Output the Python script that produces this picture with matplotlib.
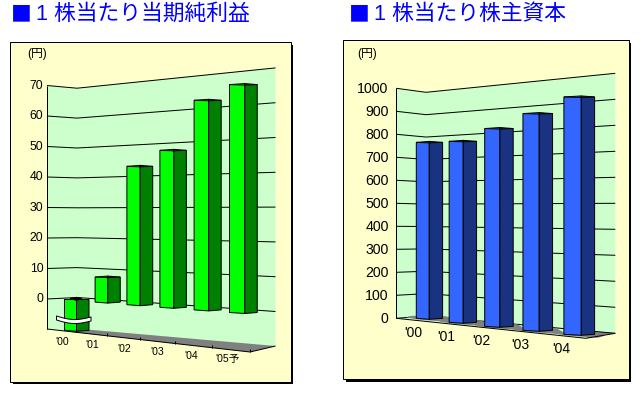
import matplotlib
matplotlib.use("Agg")
import matplotlib.pyplot as plt
import numpy as np
from matplotlib.patches import Polygon, Rectangle

plt.rcParams['font.family'] = ['Liberation Sans', 'Noto Sans CJK JP', 'DejaVu Sans']

# data
eps_title = "1 株当たり当期純利益"
eps_categories = ["'00", "'01", "'02", "'03", "'04", "'05予"]
eps_values = [-9.6, 7.8, 43.1, 48.9, 65.3, 71.0]
eps_ticks = [0, 10, 20, 30, 40, 50, 60, 70]

bps_title = "1 株当たり株主資本"
bps_categories = ["'00", "'01", "'02", "'03", "'04"]
bps_values = [733, 754, 824, 903, 989]
bps_ticks = [0, 100, 200, 300, 400, 500, 600, 700, 800, 900, 1000]

PX = 0.72  # one pixel in points at dpi 100
BLUE = "#0000ff"
WALL = "#ccffcc"
PANEL = "#ffffcc"
GRAY = "#808080"

fig = plt.figure(figsize=(6.43, 3.94), dpi=100)
ax = fig.add_axes([0, 0, 1, 1])
ax.set_xlim(0, 643)
ax.set_ylim(394, 0)  # axes units are image pixels
ax.axis("off")


def line(xs, ys, z=3):
    ax.plot(xs, ys, color="black", lw=PX, zorder=z, solid_capstyle="butt")


def panel(x0, y0, x1, y1, shadow):
    ax.add_patch(Rectangle((x0 + 3, y0 + 3), x1 - x0 + shadow - 3, y1 - y0 + shadow - 3,
                           fc="black", ec="none", zorder=1))
    ax.add_patch(Rectangle((x0, y0), x1 - x0, y1 - y0, fc=PANEL, ec="black", lw=PX, zorder=2))


def wall_y(v, left, kink, right):
    # gridline height at the three wall corners, each corner is (zero y, px per unit)
    return [c[0] - v * c[1] for c in (left, kink, right)]


def bar(xl, xk, xr, base, value, scale, front, side, z):
    top = base - value * scale
    dt = -1 if value > 0 else 1
    db = 1 if value > 0 else 0
    ax.add_patch(Polygon([(xl, base), (xk, base + db), (xk, top + dt), (xl, top)], closed=True,
                         fc=front, ec="black", lw=PX, zorder=z))
    ax.add_patch(Polygon([(xk, base + db), (xr, base), (xr, top), (xk, top + dt)], closed=True,
                         fc=side, ec="black", lw=PX, zorder=z))
    if value > 0:
        line([xl, xk, xr], [top, top + 0.5, top], z=z)


# ---- left chart ----
panel(9.5, 41.5, 290.5, 381.7, 2.5)
ax.text(11, 14.5, "■", color=BLUE, fontsize=15, va="center", ha="left", zorder=5,
        family=['Noto Sans CJK JP'])
ax.text(36.5, 14.5, eps_title, color=BLUE, fontsize=15.7, va="center", ha="left", zorder=5)
ax.text(37.5, 54, "(円)", fontsize=8.5, va="center", ha="center", zorder=5)

lx, kx, rx = 47, 77, 275.5
c_l, c_k, c_r = (299, 3.05), (297.5, 2.99), (311.5, 3.48)
top_y = wall_y(70, c_l, c_k, c_r)
ax.add_patch(Polygon([(lx, top_y[0]), (kx, top_y[1]), (rx, top_y[2]), (rx, 346), (250, 352), (lx, 329)],
                     closed=True, fc=WALL, ec="none", zorder=3))
ax.add_patch(Polygon([(72, 328.2), (rx, 346), (250, 352), (72, 332)], closed=True,
                     fc=GRAY, ec="none", zorder=3))
line([lx, lx], [top_y[0], 329])
line([lx, 250, rx], [329, 352, 346])
for v in eps_ticks:
    line([lx, kx, rx], wall_y(v, c_l, c_k, c_r))
    ax.text(43.5, wall_y(v, c_l, c_k, c_r)[0], str(v), fontsize=8.8, ha="right", va="center", zorder=5)

for i, (cat, val) in enumerate(zip(eps_categories, eps_values)):
    xl = 64.5 + 30 * i + 0.6 * i * i
    xk = xl + 12 + 0.65 * i
    xr = xk + 12.5
    base = 299.5 + 2.6 * i
    bar(xl, xk, xr, base, val, 3.21, "#00ff00", "#008000", 4 + i * 0.01)
    ax.text(xl - 2.5, 341.7 + 3.5 * i, cat, fontsize=7.6, ha="center", va="center", zorder=5)
    # tick on the floor edge
    fx = 76 + 30.5 * i + 0.85 * i * i
    fy = 329 + (fx - lx) * 23 / 203
    line([fx, fx], [fy - 3, fy], z=3.5)

# break mark on the negative bar
xs = np.linspace(56, 90.5, 30)
t = (xs - 56) / 34.5
wave = 3 * np.sin(np.pi * t) + t
ax.fill_between(xs, 315.5 + wave, 319.5 + wave, fc="white", ec="black", lw=PX, zorder=4.5)
ax.add_patch(Polygon([(70, 298.5), (76.5, 297.3), (82, 298.5), (76.5, 300.5)], closed=True,
                     fc="black", ec="black", lw=PX, zorder=4.5))

# ---- right chart ----
panel(343.3, 40.3, 628.7, 379.3, 2.5)
ax.text(349, 14.5, "■", color=BLUE, fontsize=15, va="center", ha="left", zorder=5,
        family=['Noto Sans CJK JP'])
ax.text(374, 14.5, bps_title, color=BLUE, fontsize=15.7, va="center", ha="left", zorder=5)
ax.text(367.5, 54, "(円)", fontsize=8.5, va="center", ha="center", zorder=5)

lx, kx, rx = 396.3, 426, 615.3
c_l, c_k, c_r = (318.3, 0.23), (316, 0.2237), (333.3, 0.26)
top_y = wall_y(1000, c_l, c_k, c_r)
ax.add_patch(Polygon([(lx, top_y[0]), (kx, top_y[1]), (rx, top_y[2]), (rx, 333.3), (586, 338.3), (lx, 318.3)],
                     closed=True, fc=WALL, ec="none", zorder=3))
ax.add_patch(Polygon([(595, 331.5), (rx, 333), (586, 338.3)], closed=True, fc=GRAY, ec="none", zorder=3))
line([lx, lx], [top_y[0], 318.3])
for v in bps_ticks:
    line([lx, kx, rx], wall_y(v, c_l, c_k, c_r))
    ax.text(388.5, wall_y(v, c_l, c_k, c_r)[0] + 1, str(v), fontsize=10.2, ha="right", va="center", zorder=5)

for i, (cat, val) in enumerate(zip(bps_categories, bps_values)):
    xl = 416.3 + 31.5 * i + 1.35 * i * i
    xk = xl + 13 + 1.1 * i
    xr = xk + 13.3
    base = 318.3 + 4 * i
    # floor patch under the bar
    ax.add_patch(Polygon([(xl - 10, base - 1), (xl - 4, base - 2.5), (xr + 4, base - 2), (xr + 10, base + 1.5),
                          (xr + 3, base + 3.5), (xl, base + 1)],
                         closed=True, fc=GRAY, ec="none", zorder=3.5))
    bar(xl, xk, xr, base, val, 0.24, "#3366ff", "#1a3380", 4 + i * 0.01)
    ax.text(xl - 3, 333 + 4 * i, cat, fontsize=10, ha="center", va="center", zorder=5)
line([lx, 586, rx], [318.3, 338.3, 333.3], z=3.6)

fig.savefig("out.png", dpi=100)
